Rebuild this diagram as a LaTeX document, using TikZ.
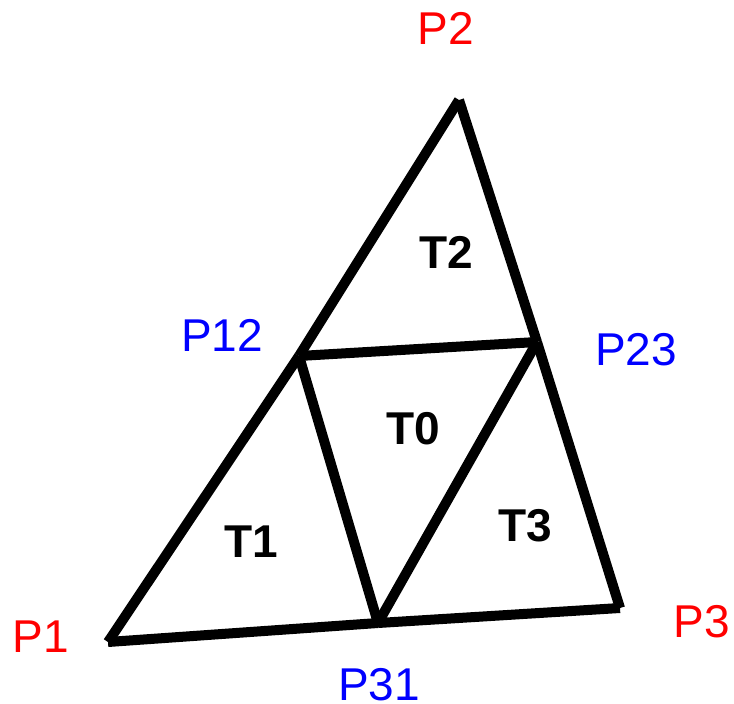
\documentclass[tikz,border=0pt]{standalone}
\usepackage{fontspec}
\setmainfont{Liberation Sans}
\begin{document}
\begin{tikzpicture}[x=1pt,y=-1pt,
  edge/.style={line width=10pt,line cap=butt},
  lbl/.style={anchor=base,inner sep=0pt,font=\fontsize{46}{46}\selectfont},
  pred/.style={lbl,text={rgb,255:red,255;green,0;blue,0}},
  pblue/.style={lbl,text={rgb,255:red,0;green,0;blue,255}},
  tri/.style={lbl,font=\fontsize{46}{46}\selectfont\bfseries}]
\useasboundingbox (0,0) rectangle (734,704);
\coordinate (V1) at (108,642);
\coordinate (V2) at (459,100);
\coordinate (V3) at (620,608);
\coordinate (V12) at (299,356);
\coordinate (V23) at (537,342);
\coordinate (V31) at (378,623);
\draw[edge] (V1) -- (V12);
\draw[edge] (V12) -- (V2);
\draw[edge] (V2) -- (V23);
\draw[edge] (V23) -- (V3);
\draw[edge] (V3) -- (V31);
\draw[edge] (V31) -- (V1);
\draw[edge] (V12) -- (V23);
\draw[edge] (V23) -- (V31);
\draw[edge] (V31) -- (V12);
\node[pred] (P1) at (41,652.5) {P1};
\node[pred] (P2) at (446,44) {P2};
\node[pred] (P3) at (702,637.5) {P3};
\node[pblue] (P12) at (222,351.5) {P12};
\node[pblue] (P23) at (636,365.5) {P23};
\node[pblue] (P31) at (379,700.5) {P31};
\node[tri] (T0) at (413,444.5) {T0};
\node[tri] (T1) at (251,557.5) {T1};
\node[tri] (T2) at (446,268.5) {T2};
\node[tri] (T3) at (525,541.5) {T3};
\end{tikzpicture}
\end{document}
